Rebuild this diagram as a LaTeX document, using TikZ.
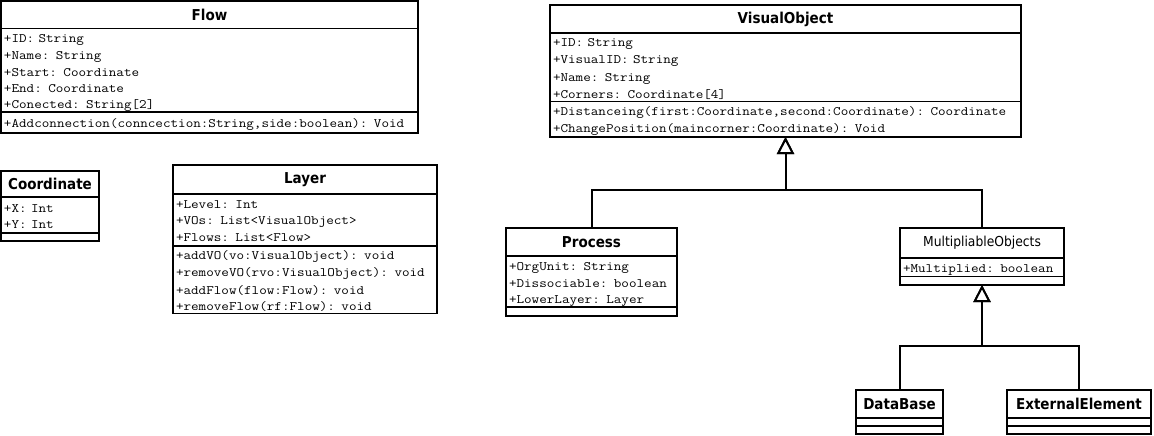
\documentclass[tikz,border=0pt]{standalone}
\usepackage{fontspec}
\usetikzlibrary{arrows.meta}
\newfontfamily\umlsans{DejaVu Sans}[FakeStretch=0.9]
\newfontfamily\umlmono{Latin Modern Mono}[FakeStretch=1.14]
% one unbreakable row of a compartment, with a strut so rows sit on a 16pt grid
\newcommand\umlrow[1]{\mbox{\rule[-2.8pt]{0pt}{16pt}#1}}
\begin{document}
\begin{tikzpicture}[x=1pt,y=-1pt,
  every node/.style={outer sep=0pt},
  box/.style={draw, line width=1.7pt, anchor=north west, inner sep=0pt},
  head/.style={box, font=\umlsans\bfseries\fontsize{15}{18}\selectfont},
  plainhead/.style={box, font=\umlsans\fontsize{13.7}{16}\selectfont},
  comp/.style={box, inner xsep=3pt, align=left, font=\umlmono\fontsize{12.9}{16}\selectfont},
  inherit/.style={line width=2pt, -{Triangle[open, length=17pt, width=17pt, fill=white]}}
]
\useasboundingbox (0,0) rectangle (1154,436);

% Flow
\node[head, minimum width=417pt, minimum height=27.5pt] (flow) at (1,1) {Flow};
\node[comp, text width=411pt, minimum height=83.5pt] (flow-a) at (flow.south west)
  {\umlrow{+ID: String}\\\umlrow{+Name: String}\\\umlrow{+Start: Coordinate}\\\umlrow{+End: Coordinate}\\\umlrow{+Conected: String[2]}};
\node[comp, text width=411pt, minimum height=21pt] (flow-m) at (flow-a.south west)
  {\umlrow{+Addconnection(conncection:String,side:boolean): Void}};

% Coordinate
\node[head, minimum width=98pt, minimum height=26pt] (coord) at (1,171) {Coordinate};
\node[comp, text width=92pt, minimum height=36pt] (coord-a) at (coord.south west)
  {\umlrow{+X: Int}\\\umlrow{+Y: Int}};
\node[box, minimum width=98pt, minimum height=8pt] (coord-m) at (coord-a.south west) {};

% Layer
\node[head, minimum width=264pt, minimum height=29pt] (layer) at (173,165) {Layer};
\node[comp, text width=258pt, minimum height=52pt] (layer-a) at (layer.south west)
  {\umlrow{+Level: Int}\\\umlrow{+VOs: List<VisualObject>}\\\umlrow{+Flows: List<Flow>}};
\node[comp, text width=258pt, minimum height=67.5pt] (layer-m) at (layer-a.south west)
  {\umlrow{+addVO(vo:VisualObject): void}\\\umlrow{+removeVO(rvo:VisualObject): void}\\\umlrow{+addFlow(flow:Flow): void}\\\umlrow{+removeFlow(rf:Flow): void}};

% VisualObject
\node[head, minimum width=471pt, minimum height=28pt] (vo) at (550,5) {VisualObject};
\node[comp, text width=465pt, minimum height=68.5pt] (vo-a) at (vo.south west)
  {\umlrow{+ID: String}\\\umlrow{+VisualID: String}\\\umlrow{+Name: String}\\\umlrow{+Corners: Coordinate[4]}};
\node[comp, text width=465pt, minimum height=35.5pt] (vo-m) at (vo-a.south west)
  {\umlrow{+Distanceing(first:Coordinate,second:Coordinate): Coordinate}\\\umlrow{+ChangePosition(maincorner:Coordinate): Void}};

% Process
\node[head, minimum width=171pt, minimum height=28pt] (proc) at (506,228) {Process};
\node[comp, text width=165pt, minimum height=51pt] (proc-a) at (proc.south west)
  {\umlrow{+OrgUnit: String}\\\umlrow{+Dissociable: boolean}\\\umlrow{+LowerLayer: Layer}};
\node[box, minimum width=171pt, minimum height=9pt] (proc-m) at (proc-a.south west) {};

% MultipliableObjects
\node[plainhead, minimum width=164pt, minimum height=30pt] (multi) at (900,228) {MultipliableObjects};
\node[comp, text width=158pt, minimum height=18.5pt] (multi-a) at (multi.south west)
  {\umlrow{+Multiplied: boolean}};
\node[box, minimum width=164pt, minimum height=8.5pt] (multi-m) at (multi-a.south west) {};

% DataBase
\node[head, minimum width=87pt, minimum height=28pt] (db) at (856,390) {DataBase};
\node[box, minimum width=87pt, minimum height=8pt] (db-a) at (db.south west) {};
\node[box, minimum width=87pt, minimum height=8pt] (db-m) at (db-a.south west) {};

% ExternalElement
\node[head, minimum width=144pt, minimum height=28pt] (ext) at (1007,390) {ExternalElement};
\node[box, minimum width=144pt, minimum height=8pt] (ext-a) at (ext.south west) {};
\node[box, minimum width=144pt, minimum height=8pt] (ext-m) at (ext-a.south west) {};

% generalisations
\draw[inherit] (proc.north) -- ++(0,-38.5) -| (vo-m.south);
\draw[inherit] (multi.north) -- ++(0,-38.5) -| (vo-m.south);
\draw[inherit] (db.north) -- ++(0,-44.5) -| (multi-m.south);
\draw[inherit] (ext.north) -- ++(0,-44.5) -| (multi-m.south);
\end{tikzpicture}
\end{document}
